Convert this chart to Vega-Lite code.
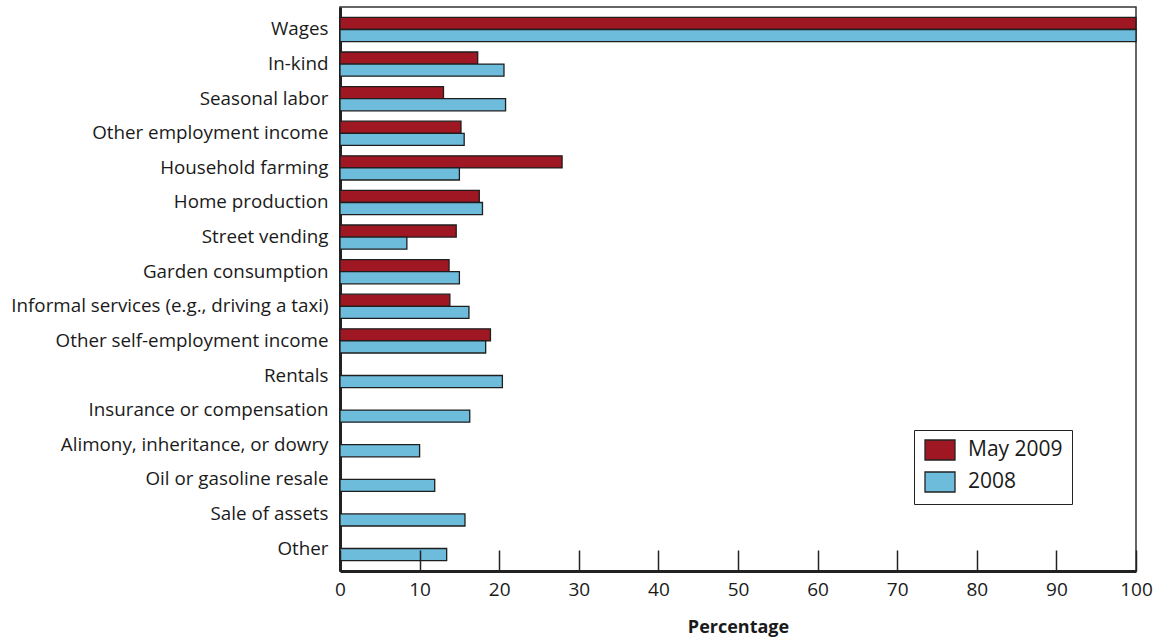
{
  "$schema": "https://vega.github.io/schema/vega-lite/v6.json",
  "autosize": "none",
  "padding": {"left": 340, "top": 7, "right": 18, "bottom": 72},
  "width": 796,
  "height": 564,
  "background": "white",
  "config": {
    "font": "Open Sans",
    "view": {"stroke": "#333333", "strokeWidth": 1.5}
  },
  "data": {
    "values": [
      {"source": "Wages", "series": "May 2009", "pct": 100},
      {"source": "Wages", "series": "2008", "pct": 100},
      {"source": "In-kind", "series": "May 2009", "pct": 17.3},
      {"source": "In-kind", "series": "2008", "pct": 20.6},
      {"source": "Seasonal labor", "series": "May 2009", "pct": 13.0},
      {"source": "Seasonal labor", "series": "2008", "pct": 20.8},
      {"source": "Other employment income", "series": "May 2009", "pct": 15.2},
      {"source": "Other employment income", "series": "2008", "pct": 15.6},
      {"source": "Household farming", "series": "May 2009", "pct": 27.9},
      {"source": "Household farming", "series": "2008", "pct": 15.0},
      {"source": "Home production", "series": "May 2009", "pct": 17.5},
      {"source": "Home production", "series": "2008", "pct": 17.9},
      {"source": "Street vending", "series": "May 2009", "pct": 14.6},
      {"source": "Street vending", "series": "2008", "pct": 8.4},
      {"source": "Garden consumption", "series": "May 2009", "pct": 13.7},
      {"source": "Garden consumption", "series": "2008", "pct": 15.0},
      {"source": "Informal services (e.g., driving a taxi)", "series": "May 2009", "pct": 13.8},
      {"source": "Informal services (e.g., driving a taxi)", "series": "2008", "pct": 16.2},
      {"source": "Other self-employment income", "series": "May 2009", "pct": 18.9},
      {"source": "Other self-employment income", "series": "2008", "pct": 18.3},
      {"source": "Rentals", "series": "2008", "pct": 20.4},
      {"source": "Insurance or compensation", "series": "2008", "pct": 16.3},
      {"source": "Alimony, inheritance, or dowry", "series": "2008", "pct": 10.0},
      {"source": "Oil or gasoline resale", "series": "2008", "pct": 11.9},
      {"source": "Sale of assets", "series": "2008", "pct": 15.7},
      {"source": "Other", "series": "2008", "pct": 13.4}
    ]
  },
  "mark": {"type": "bar", "stroke": "#1e1e1e", "strokeWidth": 1.3},
  "encoding": {
    "y": {
      "field": "source",
      "type": "nominal",
      "sort": null,
      "scale": {
        "domain": ["Wages", "In-kind", "Seasonal labor", "Other employment income", "Household farming", "Home production", "Street vending", "Garden consumption", "Informal services (e.g., driving a taxi)", "Other self-employment income", "Rentals", "Insurance or compensation", "Alimony, inheritance, or dowry", "Oil or gasoline resale", "Sale of assets", "Other"],
        "paddingInner": 0.3,
        "paddingOuter": 0.3
      },
      "axis": {
        "title": null,
        "ticks": false,
        "domain": true,
        "domainWidth": 3,
        "domainColor": "#222222",
        "labelFontSize": 18.8,
        "labelColor": "#1a1a1a",
        "labelPadding": 12,
        "labelLimit": 400
      }
    },
    "yOffset": {
      "field": "series",
      "type": "nominal",
      "sort": ["May 2009", "2008"],
      "scale": {"domain": ["May 2009", "2008"], "paddingInner": 0, "paddingOuter": 0}
    },
    "x": {
      "field": "pct",
      "type": "quantitative",
      "scale": {"domain": [0, 100], "nice": false},
      "axis": {
        "title": "Percentage",
        "titleFontSize": 18,
        "titleFontWeight": "bold",
        "titleColor": "#1a1a1a",
        "titlePadding": 19,
        "values": [0, 10, 20, 30, 40, 50, 60, 70, 80, 90, 100],
        "grid": false,
        "domainWidth": 3,
        "domainColor": "#222222",
        "tickSize": -21,
        "tickWidth": 1.5,
        "tickColor": "#222222",
        "labelFontSize": 19,
        "labelColor": "#1a1a1a",
        "labelPadding": 30,
        "labelFlush": false,
        "zindex": 1
      }
    },
    "color": {
      "field": "series",
      "type": "nominal",
      "sort": ["May 2009", "2008"],
      "scale": {"domain": ["May 2009", "2008"], "range": ["#9f1723", "#6ebcdc"]},
      "legend": {
        "title": null,
        "orient": "none",
        "legendX": 574,
        "legendY": 423,
        "fillColor": "white",
        "strokeColor": "#222222",
        "padding": 9,
        "symbolType": "M-1.5,-1H1.5V1H-1.5Z",
        "symbolSize": 400,
        "symbolOffset": 6,
        "symbolStrokeColor": "#222222",
        "symbolStrokeWidth": 1.3,
        "symbolOpacity": 1,
        "labelFontSize": 21,
        "labelColor": "#1a1a1a",
        "labelOffset": 17,
        "rowPadding": 6
      }
    }
  }
}
